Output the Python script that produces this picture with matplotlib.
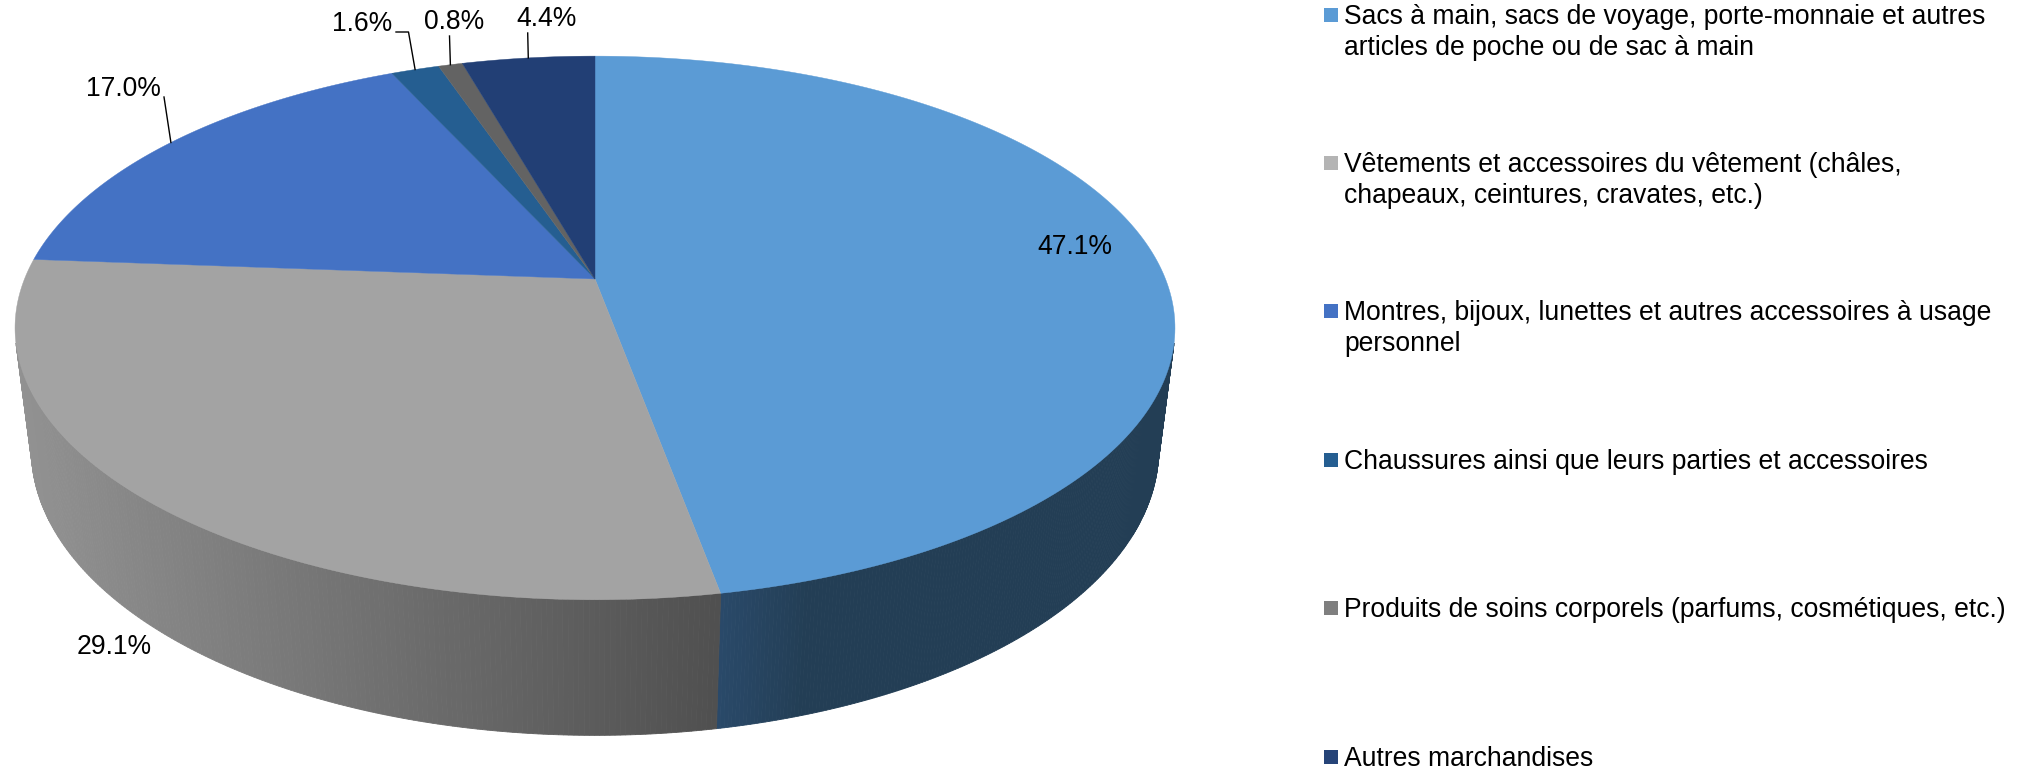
import numpy as np
import matplotlib
matplotlib.use("Agg")
import matplotlib.pyplot as plt
from matplotlib.colors import to_rgb
from matplotlib.patches import Rectangle

plt.rcParams['font.family'] = ['Liberation Sans', 'DejaVu Sans']

# data
shares = [47.1, 29.1, 17.0, 1.6, 0.8, 4.4]
share_labels = ["47.1%", "29.1%", "17.0%", "1.6%", "0.8%", "4.4%"]
categories = [
    "Sacs à main, sacs de voyage, porte-monnaie et autres\narticles de poche ou de sac à main",
    "Vêtements et accessoires du vêtement (châles,\nchapeaux, ceintures, cravates, etc.)",
    "Montres, bijoux, lunettes et autres accessoires à usage\npersonnel",
    "Chaussures ainsi que leurs parties et accessoires",
    "Produits de soins corporels (parfums, cosmétiques, etc.)",
    "Autres marchandises",
]
top_colors = ["#5B9BD5", "#A3A3A3", "#4472C4", "#255E91", "#636363", "#223F75"]
legend_colors = ["#5B9BD5", "#B4B4B4", "#4472C4", "#255E91", "#7F7F7F", "#264478"]
# wall shade at the seam / far end of each visible slice
wall_colors = [("#2A4A6A", "#233E55"), ("#505050", "#929292")]

# label placement in pixels (x, y), leader start (None = no leader)
label_pos = [(1075, 247), (114, 647), (123, 89), (362, 24), (454, 22), (547, 19)]
leader_from = [None, None, [(164, 97)], [(396, 32), (408.5, 32)], [(449.5, 36)], [(527.7, 33)]]

# camera for the tilted disc
cx, cy = 595, 279
R, S, D = 570.5, 263, 124
k, m = 0.18, 0.028
wall_start, wall_end = np.radians(103.5), np.radians(256.5)


def project(theta, z=0.0):
    u, v = np.sin(theta), np.cos(theta)
    w = 1 + k * v + m * z
    return cx + R * u / w, cy + (-S * v + D * z) / w


fig = plt.figure(figsize=(20.34, 7.68), dpi=100)
ax = fig.add_axes([0, 0, 1, 1])
ax.set_xlim(0, 2034)
ax.set_ylim(768, 0)
ax.axis('off')

edges = np.radians(np.cumsum([0] + shares) * 360 / sum(shares))
seam_x = project(edges[1])[0]

# side wall, only the two front slices show
for i, (c0, c1) in enumerate(wall_colors):
    t = np.linspace(max(edges[i], wall_start), min(edges[i + 1], wall_end), 200)
    x0, y0 = project(t)
    x1, y1 = project(t, 1.0)
    for j in range(len(t) - 1):
        if i == 0:
            f = min((x0[j] - seam_x) / 90.0, 1)
        else:
            f = (seam_x - x0[j]) / (seam_x - 14)
        col = np.array(to_rgb(c0)) * (1 - f) + np.array(to_rgb(c1)) * f
        ax.fill([x0[j], x0[j + 1], x1[j + 1], x1[j]],
                [y0[j], y0[j + 1], y1[j + 1], y1[j]],
                color=col, lw=0.6, zorder=1)

# top face
for i, col in enumerate(top_colors):
    t = np.linspace(edges[i], edges[i + 1], 200)
    x, y = project(t)
    ax.fill(np.r_[cx, x], np.r_[cy, y], color=col, lw=0.3, zorder=2)

# value labels and leaders
for i, txt in enumerate(share_labels):
    ax.text(label_pos[i][0], label_pos[i][1], txt, fontsize=19.1, color='black',
            ha='center', va='center', zorder=4)
    if leader_from[i] is not None:
        px, py = project((edges[i] + edges[i + 1]) / 2)
        pts = leader_from[i] + [(px, py)]
        ax.plot([p[0] for p in pts], [p[1] for p in pts], color='black', lw=1.0, zorder=3)

# legend
legend_tops = [8, 156, 304, 453, 601, 750]
for lab, col, top in zip(categories, legend_colors, legend_tops):
    ax.add_patch(Rectangle((1324, top), 14, 14, color=col, lw=0))
    ax.text(1344, top - 4, lab, fontsize=19.1, color='black', ha='left', va='top', linespacing=1.24)

fig.savefig("out.png", dpi=100)
